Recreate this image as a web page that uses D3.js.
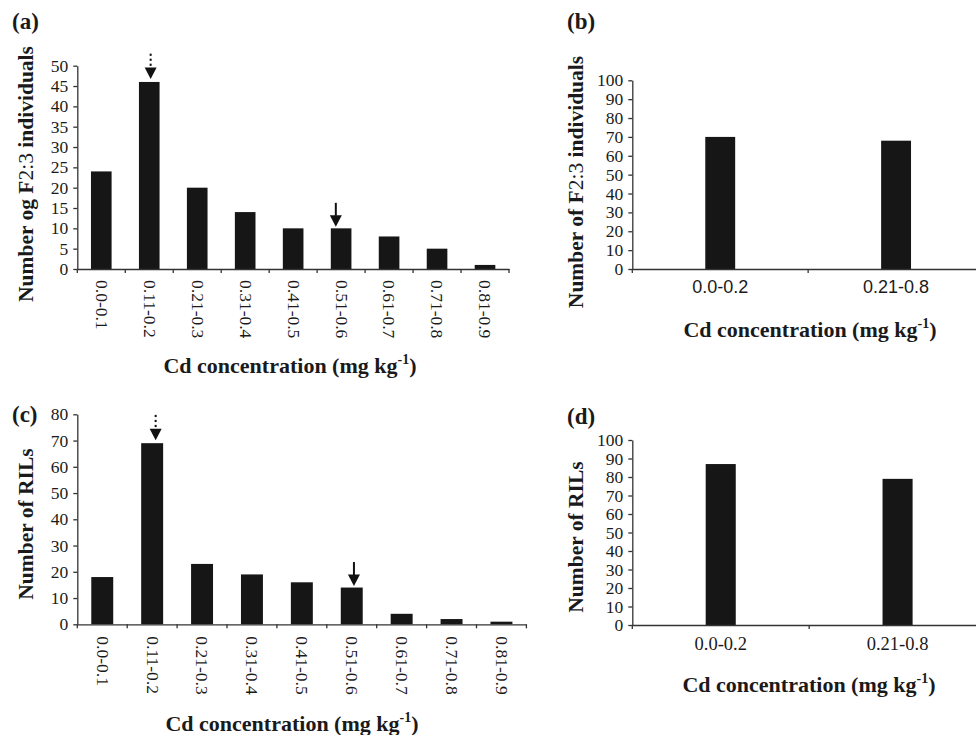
<!DOCTYPE html>
<html><head><meta charset="utf-8">
<script src="https://cdn.jsdelivr.net/npm/d3@7"></script>
<style>body{margin:0;background:#fff} svg{display:block}</style>
</head><body>
<svg id="chart" width="976" height="735"></svg>
<script>
// ---- data ----
const binsFine = ["0.0-0.1","0.11-0.2","0.21-0.3","0.31-0.4","0.41-0.5","0.51-0.6","0.61-0.7","0.71-0.8","0.81-0.9"];
const binsCoarse = ["0.0-0.2","0.21-0.8"];
const f23Fine = [24,46,20,14,10,10,8,5,1];
const f23Coarse = [70,68];
const rilFine = [18,69,23,19,16,14,4,2,1];
const rilCoarse = [87,79];
const ticksA = [0,5,10,15,20,25,30,35,40,45,50];
const ticksB = [0,10,20,30,40,50,60,70,80,90,100];
const ticksC = [0,10,20,30,40,50,60,70,80];
const ticksD = [0,10,20,30,40,50,60,70,80,90,100];

const SERIF = "'Liberation Serif','Times New Roman',serif";
const SANS = "'Liberation Sans',Arial,sans-serif";
const BAR = "#161616", AX = "#333", TXT = "#1a1a1a";

const svg = d3.select("#chart");

const panels = [
  {tag:"(a)", tagX:12, tagY:28.5, cats:binsFine, vals:f23Fine, ticks:ticksA, yMax:50,
   x0:77.3, x1:509, yBase:269, yTop:65.7, pad:0.57, rotLabels:true, lblFont:SERIF, lblSize:17.5, lblOff:11,
   yTitle:["Number og F","2:3"," individuals"], yTX:33, yTY:174, xTX:290, xTY:373,
   arrows:[{cat:"0.11-0.2", dotted:true, dx:1.4},{cat:"0.51-0.6", dotted:false, dx:-5.3}]},
  {tag:"(b)", tagX:567, tagY:28.5, cats:binsCoarse, vals:f23Coarse, ticks:ticksB, yMax:100,
   x0:632.3, x1:984, yBase:269, yTop:80.3, pad:0.83, rotLabels:false, lblFont:SANS, lblSize:18, lblOff:24,
   yTitle:["Number of F","2:3"," individuals"], yTX:583, yTY:182, xTX:810, xTY:337, arrows:[]},
  {tag:"(c)", tagX:12, tagY:422, cats:binsFine, vals:rilFine, ticks:ticksC, yMax:80,
   x0:77.3, x1:526.4, yBase:624.3, yTop:414.3, pad:0.56, rotLabels:true, lblFont:SERIF, lblSize:17.5, lblOff:12,
   yTitle:["Number of RILs"], yTX:33, yTY:524, xTX:292, xTY:731,
   arrows:[{cat:"0.11-0.2", dotted:true, dx:3.5},{cat:"0.51-0.6", dotted:false, dx:2.2}]},
  {tag:"(d)", tagX:567, tagY:424, cats:binsCoarse, vals:rilCoarse, ticks:ticksD, yMax:100,
   x0:632.3, x1:986, yBase:625, yTop:440, pad:0.83, rotLabels:false, lblFont:SERIF, lblSize:18.5, lblOff:25,
   yTitle:["Number of RILs"], yTX:583, yTY:537, xTX:809, xTY:692, arrows:[]}
];

function drawPanel(p){
  const g = svg.append("g");
  const x = d3.scaleBand().domain(p.cats).range([p.x0,p.x1]).paddingInner(p.pad).paddingOuter(p.pad/2);
  const y = d3.scaleLinear().domain([0,p.yMax]).range([p.yBase,p.yTop]);
  const data = p.cats.map((c,i)=>({c, v:p.vals[i]}));

  // bars
  g.append("g").selectAll("rect").data(data).join("rect")
    .attr("x",d=>x(d.c)).attr("width",x.bandwidth())
    .attr("y",d=>y(d.v)).attr("height",d=>y(0)-y(d.v))
    .attr("fill",BAR);

  // y axis
  const ya = g.append("g").attr("transform",`translate(${p.x0},0)`)
    .call(d3.axisLeft(y).tickValues(p.ticks).tickSize(4).tickSizeOuter(0).tickPadding(5));
  ya.select(".domain").attr("stroke",AX).attr("stroke-width",1.3);
  ya.selectAll(".tick line").attr("stroke",AX).attr("stroke-width",1.3);
  ya.selectAll(".tick text").attr("font-family",SERIF).attr("font-size",17.5).attr("fill",TXT);

  // x axis
  const xa = g.append("g").attr("transform",`translate(0,${p.yBase})`)
    .call(d3.axisBottom(x).tickSize(0).tickSizeOuter(0));
  xa.select(".domain").attr("stroke",AX).attr("stroke-width",1.3);
  const txt = xa.selectAll(".tick text").attr("font-family",p.lblFont).attr("font-size",p.lblSize).attr("fill",TXT);
  if(p.rotLabels){
    txt.attr("transform","rotate(90)").attr("x",p.lblOff).attr("y",0).attr("dy","0.32em").attr("text-anchor","start");
  } else {
    txt.attr("y",p.lblOff).attr("dy",0);
  }
  // boundary ticks
  const bounds = d3.range(p.cats.length+1).map(i=>p.x0 + i*x.step());
  xa.selectAll(".btick").data(bounds).join("line").attr("class","btick")
    .attr("x1",d=>d).attr("x2",d=>d).attr("y1",0).attr("y2",4)
    .attr("stroke",AX).attr("stroke-width",1.3);

  // panel tag
  g.append("text").attr("x",p.tagX).attr("y",p.tagY).text(p.tag)
    .attr("font-family",SERIF).attr("font-weight","bold").attr("font-size",23).attr("fill",TXT);

  // y title
  const yt = g.append("text").attr("transform",`translate(${p.yTX},${p.yTY}) rotate(-90)`)
    .attr("text-anchor","middle").attr("font-family",SERIF).attr("font-weight","bold")
    .attr("font-size",21.5).attr("fill",TXT);
  p.yTitle.forEach((s,i)=>{
    const t = yt.append("tspan").text(s);
    if(i===1) t.attr("font-weight","normal");
  });

  // x title
  const xt = g.append("text").attr("x",p.xTX).attr("y",p.xTY).attr("text-anchor","middle")
    .attr("font-family",SERIF).attr("font-weight","bold").attr("font-size",22).attr("fill",TXT);
  xt.append("tspan").text("Cd concentration (mg kg");
  xt.append("tspan").text("-1").attr("font-size",14).attr("dy",-9);
  xt.append("tspan").text(")").attr("dy",9);

  // arrows
  p.arrows.forEach(a=>{
    const v = p.vals[p.cats.indexOf(a.cat)];
    const cx = x(a.cat) + x.bandwidth()/2 + a.dx;
    const tip = y(v) - (a.dotted ? 3 : 1.5);
    g.append("path").attr("d",`M${cx-6},${tip-11.5}L${cx+6},${tip-11.5}L${cx},${tip}Z`).attr("fill","#111");
    if(a.dotted){
      [24.3,19.3,14.3].forEach(o=>{
        g.append("rect").attr("x",cx-1).attr("y",tip-o-1).attr("width",2).attr("height",2.2).attr("fill","#111");
      });
    } else {
      g.append("line").attr("x1",cx).attr("x2",cx).attr("y1",tip-24).attr("y2",tip-11)
        .attr("stroke","#111").attr("stroke-width",2);
    }
  });
}

panels.forEach(drawPanel);
</script>
</body></html>
